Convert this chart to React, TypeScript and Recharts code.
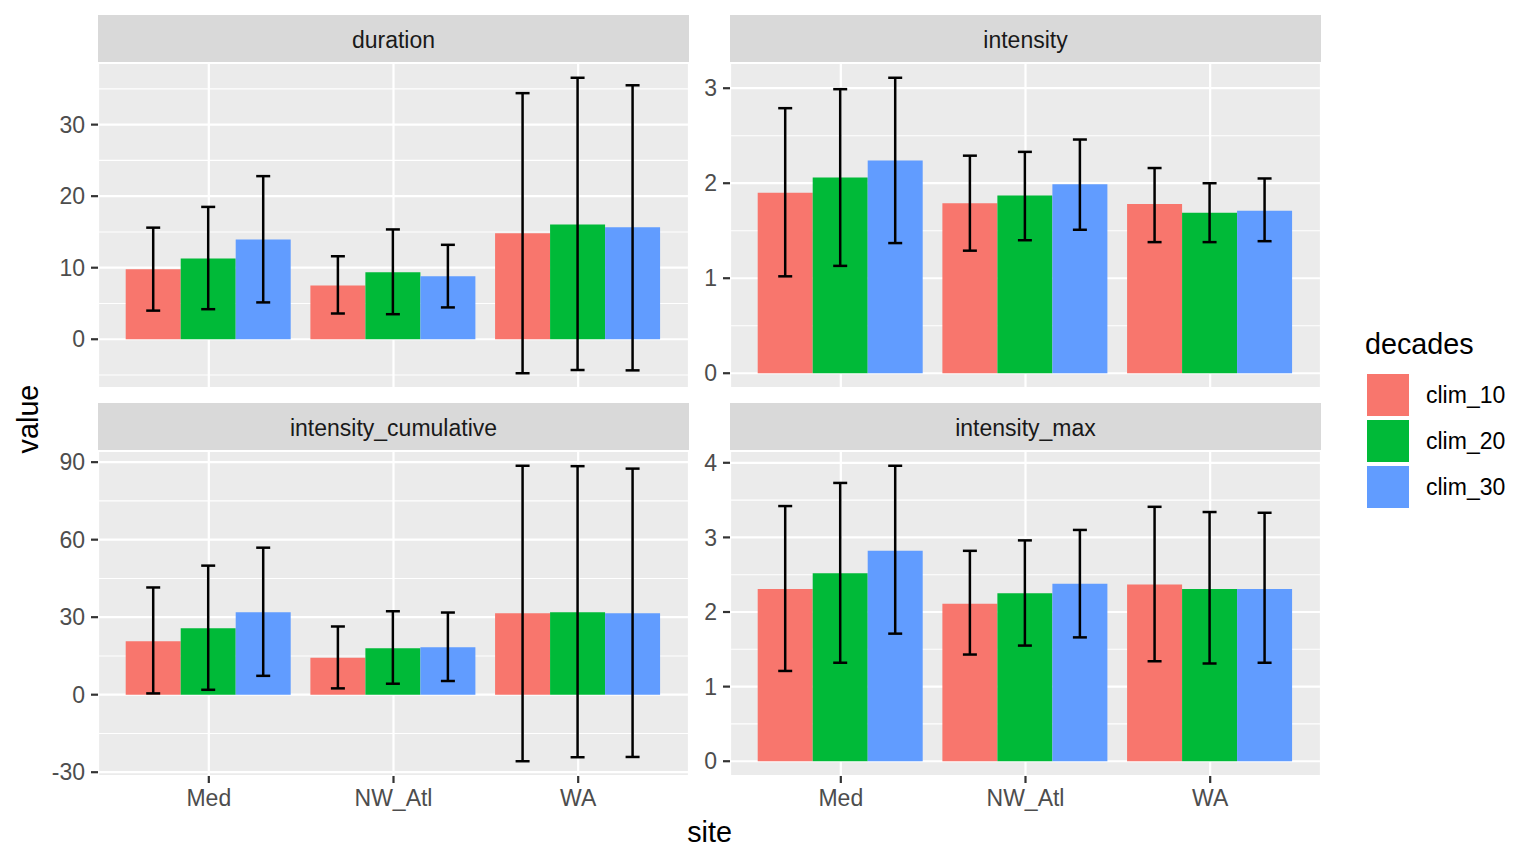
import { BarChart, Bar, XAxis, YAxis, CartesianGrid, ErrorBar } from "recharts";

const SITES = ["Med", "NW_Atl", "WA"];
const DECADES = ["clim_10", "clim_20", "clim_30"];
const COLORS = ["#F8766D", "#00BA38", "#619CFF"];

// rows = decade, columns = site
const durationMean = [
  [9.8, 7.5, 14.8],
  [11.3, 9.35, 16.05],
  [13.95, 8.8, 15.65],
];
const durationLow = [
  [4.0, 3.6, -4.75],
  [4.2, 3.5, -4.3],
  [5.15, 4.45, -4.35],
];
const durationHigh = [
  [15.6, 11.6, 34.4],
  [18.5, 15.35, 36.55],
  [22.8, 13.2, 35.5],
];

const intensityMean = [
  [1.9, 1.79, 1.78],
  [2.06, 1.87, 1.69],
  [2.24, 1.99, 1.71],
];
const intensityLow = [
  [1.02, 1.29, 1.38],
  [1.13, 1.4, 1.38],
  [1.37, 1.51, 1.39],
];
const intensityHigh = [
  [2.79, 2.29, 2.16],
  [2.99, 2.33, 2.0],
  [3.11, 2.46, 2.05],
];

const cumulativeMean = [
  [20.7, 14.3, 31.5],
  [25.75, 18.0, 31.9],
  [31.9, 18.4, 31.5],
];
const cumulativeLow = [
  [0.5, 2.45, -25.75],
  [1.9, 4.25, -24.2],
  [7.3, 5.3, -24.1],
];
const cumulativeHigh = [
  [41.5, 26.4, 88.6],
  [49.95, 32.3, 88.45],
  [56.9, 31.8, 87.5],
];

const maxMean = [
  [2.31, 2.11, 2.37],
  [2.52, 2.25, 2.31],
  [2.82, 2.38, 2.31],
];
const maxLow = [
  [1.21, 1.43, 1.34],
  [1.32, 1.55, 1.31],
  [1.71, 1.66, 1.32],
];
const maxHigh = [
  [3.42, 2.82, 3.41],
  [3.73, 2.96, 3.34],
  [3.96, 3.1, 3.33],
];

const durationTicks = [0, 10, 20, 30];
const durationMinor = [-5, 5, 15, 25, 35];
const intensityTicks = [0, 1, 2, 3];
const intensityMinor = [0.5, 1.5, 2.5];
const cumulativeTicks = [-30, 0, 30, 60, 90];
const cumulativeMinor = [-15, 15, 45, 75];
const maxTicks = [0, 1, 2, 3, 4];
const maxMinor = [0.5, 1.5, 2.5, 3.5];

const FONT = '"Liberation Sans", Arial, Helvetica, sans-serif';
const PLOT_W = 591;
const PLOT_H = 325;
const STRIP_H = 48;
const Y_W = 60;
const X_H = 40;
const TOP_M = 14; // room so top tick labels are not clipped
const TXT = 23;
const TITLE = 28.75;

function buildRows(mean: number[][], low: number[][], high: number[][]) {
  return SITES.map((site, s) => {
    const row: any = { site };
    DECADES.forEach((d, i) => {
      row[d] = mean[i][s];
      row[d + "_err"] = [mean[i][s] - low[i][s], high[i][s] - mean[i][s]];
    });
    return row;
  });
}

// ggplot-style 5% expansion around data incl. error bars and the bar base
function domainOf(low: number[][], high: number[][]): [number, number] {
  const lo = Math.min(0, ...low.flat());
  const hi = Math.max(0, ...high.flat());
  const pad = (hi - lo) * 0.05;
  return [lo - pad, hi + pad];
}

const facets = [
  { title: "duration", mean: durationMean, low: durationLow, high: durationHigh, ticks: durationTicks, minor: durationMinor, left: 98, top: 63, showX: false },
  { title: "intensity", mean: intensityMean, low: intensityLow, high: intensityHigh, ticks: intensityTicks, minor: intensityMinor, left: 730, top: 63, showX: false },
  { title: "intensity_cumulative", mean: cumulativeMean, low: cumulativeLow, high: cumulativeHigh, ticks: cumulativeTicks, minor: cumulativeMinor, left: 98, top: 451, showX: true },
  { title: "intensity_max", mean: maxMean, low: maxLow, high: maxHigh, ticks: maxTicks, minor: maxMinor, left: 730, top: 451, showX: true },
];

function Facet({ f }: { f: (typeof facets)[number] }) {
  const rows = buildRows(f.mean, f.low, f.high);
  const pad = PLOT_W / 3.2 * 0.1;
  return (
    <>
      <div
        style={{
          position: "absolute",
          left: f.left,
          top: f.top - STRIP_H,
          width: PLOT_W,
          height: STRIP_H,
          background: "#D9D9D9",
          color: "#1A1A1A",
          fontSize: TXT,
          lineHeight: STRIP_H + 3 + "px",
          textAlign: "center",
          overflow: "hidden",
        }}
      >
        {f.title}
      </div>
      <div style={{ position: "absolute", left: f.left - Y_W, top: f.top - TOP_M }}>
        <BarChart
          width={Y_W + PLOT_W}
          height={TOP_M + PLOT_H + (f.showX ? X_H : 0)}
          data={rows}
          margin={{ top: TOP_M, right: 0, bottom: 0, left: 0 }}
          barCategoryGap="5%"
          barGap={0}
        >
          <CartesianGrid fill="#EBEBEB" stroke="#FFFFFF" strokeWidth={1.1} vertical={false} horizontalValues={f.minor} />
          <CartesianGrid stroke="#FFFFFF" strokeWidth={2.2} />
          <XAxis
            dataKey="site"
            hide={!f.showX}
            height={X_H}
            padding={{ left: pad, right: pad }}
            axisLine={false}
            tickLine={{ stroke: "#333333", strokeWidth: 2.2 }}
            tickSize={7}
            tickMargin={7}
            interval={0}
            tick={{ fill: "#4D4D4D", fontSize: TXT }}
          />
          <YAxis
            width={Y_W}
            type="number"
            domain={domainOf(f.low, f.high)}
            allowDataOverflow
            ticks={f.ticks}
            interval={0}
            axisLine={false}
            tickLine={{ stroke: "#333333", strokeWidth: 2.2 }}
            tickSize={7}
            tickMargin={6}
            tick={{ fill: "#4D4D4D", fontSize: TXT }}
          />
          {DECADES.map((d, i) => (
            <Bar key={d} dataKey={d} fill={COLORS[i]} isAnimationActive={false}>
              <ErrorBar dataKey={d + "_err"} direction="y" width={7} stroke="#000000" strokeWidth={2.5} />
            </Bar>
          ))}
        </BarChart>
      </div>
    </>
  );
}

export default function App() {
  return (
    <div
      style={{
        position: "absolute",
        left: 0,
        top: 0,
        width: 1536,
        height: 865,
        background: "#FFFFFF",
        fontFamily: FONT,
        overflow: "hidden",
      }}
    >
      {facets.map((f) => (
        <Facet key={f.title} f={f} />
      ))}

      <div
        style={{
          position: "absolute",
          left: 28 - 60,
          top: 419 - 20,
          width: 120,
          height: 40,
          lineHeight: "40px",
          textAlign: "center",
          fontSize: TITLE,
          color: "#000000",
          transform: "rotate(-90deg)",
        }}
      >
        value
      </div>
      <div
        style={{
          position: "absolute",
          left: 709.5 - 60,
          top: 832 - 20,
          width: 120,
          height: 40,
          lineHeight: "40px",
          textAlign: "center",
          fontSize: TITLE,
          color: "#000000",
        }}
      >
        site
      </div>

      <div style={{ position: "absolute", left: 1365, top: 344 - 20, height: 40, lineHeight: "40px", fontSize: TITLE, color: "#000000" }}>
        decades
      </div>
      {DECADES.map((d, i) => (
        <div key={d}>
          <div
            style={{
              position: "absolute",
              left: 1367,
              top: 374 + i * 46,
              width: 42,
              height: 42,
              background: COLORS[i],
            }}
          />
          <div
            style={{
              position: "absolute",
              left: 1426,
              top: 374 + i * 46,
              height: 42,
              lineHeight: "42px",
              fontSize: TXT,
              color: "#000000",
            }}
          >
            {d}
          </div>
        </div>
      ))}
    </div>
  );
}
